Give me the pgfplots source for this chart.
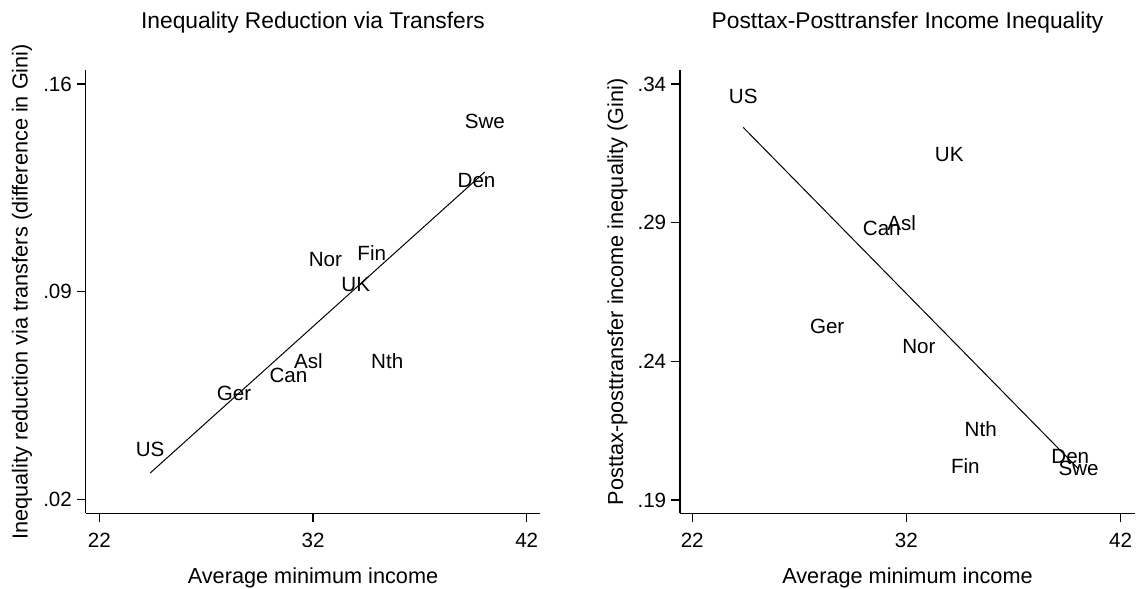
\documentclass[border=0pt]{standalone}
\usepackage{pgfplots}
\usepackage{pgfplotstable}
\pgfplotsset{compat=1.18}
\usepackage{fontspec}
\setmainfont{Liberation Sans}

\pgfplotstableread{
x     y1      y2      lab
24.38 0.0369  0.3357  US
28.30 0.0557  0.2526  Ger
30.85 0.0619  0.2879  Can
31.78 0.0667  0.2897  Asl
35.47 0.0667  0.2154  Nth
32.58 0.1007  0.2453  Nor
34.75 0.1029  0.2024  Fin
34.00 0.0923  0.3146  UK
39.65 0.1276  0.2056  Den
40.04 0.1475  0.2015  Swe
}\countrydata

\pgfplotsset{
  statastyle/.style={
    scale only axis,
    width=227.2pt, height=221.65pt,
    axis x line*=bottom, axis y line*=left,
    axis line style={line width=0.65pt, black},
    tick align=outside,
    major tick length=4.5pt,
    every tick/.style={black, line width=0.65pt},
    xtick={22,32,42}, xticklabels={22,32,42},
    tick label style={font=\fontsize{10.3}{12}\selectfont},
    xticklabel style={inner sep=0pt, yshift=-5pt},
    yticklabel style={inner sep=0pt, xshift=-2.2pt},
    clip=false,
  },
  labstyle/.style={
    only marks, mark=none,
    nodes near coords,
    point meta=explicit symbolic,
    nodes near coords align={center},
    every node near coord/.append style={anchor=center, inner sep=0pt, font=\fontsize{10.3}{12}\selectfont, text=black},
  },
}

\begin{document}
\begin{tikzpicture}
\path[use as bounding box] (0,0) rectangle (568pt,294.5pt);

\begin{axis}[statastyle,
  at={(42.85pt,37.85pt)}, anchor=south west,
  width=227.15pt,
  xmin=21.364, xmax=42.62,
  ymin=0.01528, ymax=0.16472,
  ytick={0.02,0.09,0.16}, yticklabels={.02,.09,.16},
]
\addplot[labstyle] table[x=x, y=y1, meta=lab] {\countrydata};
\addplot[black, line width=0.5pt] coordinates {(24.38,0.02885) (40.04,0.13036)};
\end{axis}

\begin{axis}[statastyle,
  at={(340pt,37.85pt)}, anchor=south west,
  width=227.5pt,
  xmin=21.43, xmax=42.67,
  ymin=0.1852, ymax=0.34505,
  ytick={0.19,0.24,0.29,0.34}, yticklabels={.19,.24,.29,.34},
]
\addplot[labstyle] table[x=x, y=y2, meta=lab] {\countrydata};
\addplot[black, line width=0.5pt] coordinates {(24.38,0.32436) (40.04,0.20114)};
\end{axis}

% titles
\node[anchor=base, inner sep=0pt, font=\fontsize{11.4}{13}\selectfont] at (156.5pt,280pt) {Inequality Reduction via Transfers};
\node[anchor=base, inner sep=0pt, font=\fontsize{11.4}{13}\selectfont] at (453.75pt,280pt) {Posttax-Posttransfer Income Inequality};
% y labels
\node[rotate=90, anchor=base, inner sep=0pt, font=\fontsize{10.85}{13}\selectfont] at (13.75pt,148.65pt) {Inequality reduction via transfers (difference in Gini)};
\node[rotate=90, anchor=base, inner sep=0pt, font=\fontsize{10.85}{13}\selectfont] at (311.5pt,148.65pt) {Posttax-posttransfer income inequality (Gini)};
% x labels
\node[anchor=base, inner sep=0pt, font=\fontsize{10.85}{13}\selectfont] at (156.5pt,2.5pt) {Average minimum income};
\node[anchor=base, inner sep=0pt, font=\fontsize{10.85}{13}\selectfont] at (453.75pt,2.5pt) {Average minimum income};
\end{tikzpicture}
\end{document}
